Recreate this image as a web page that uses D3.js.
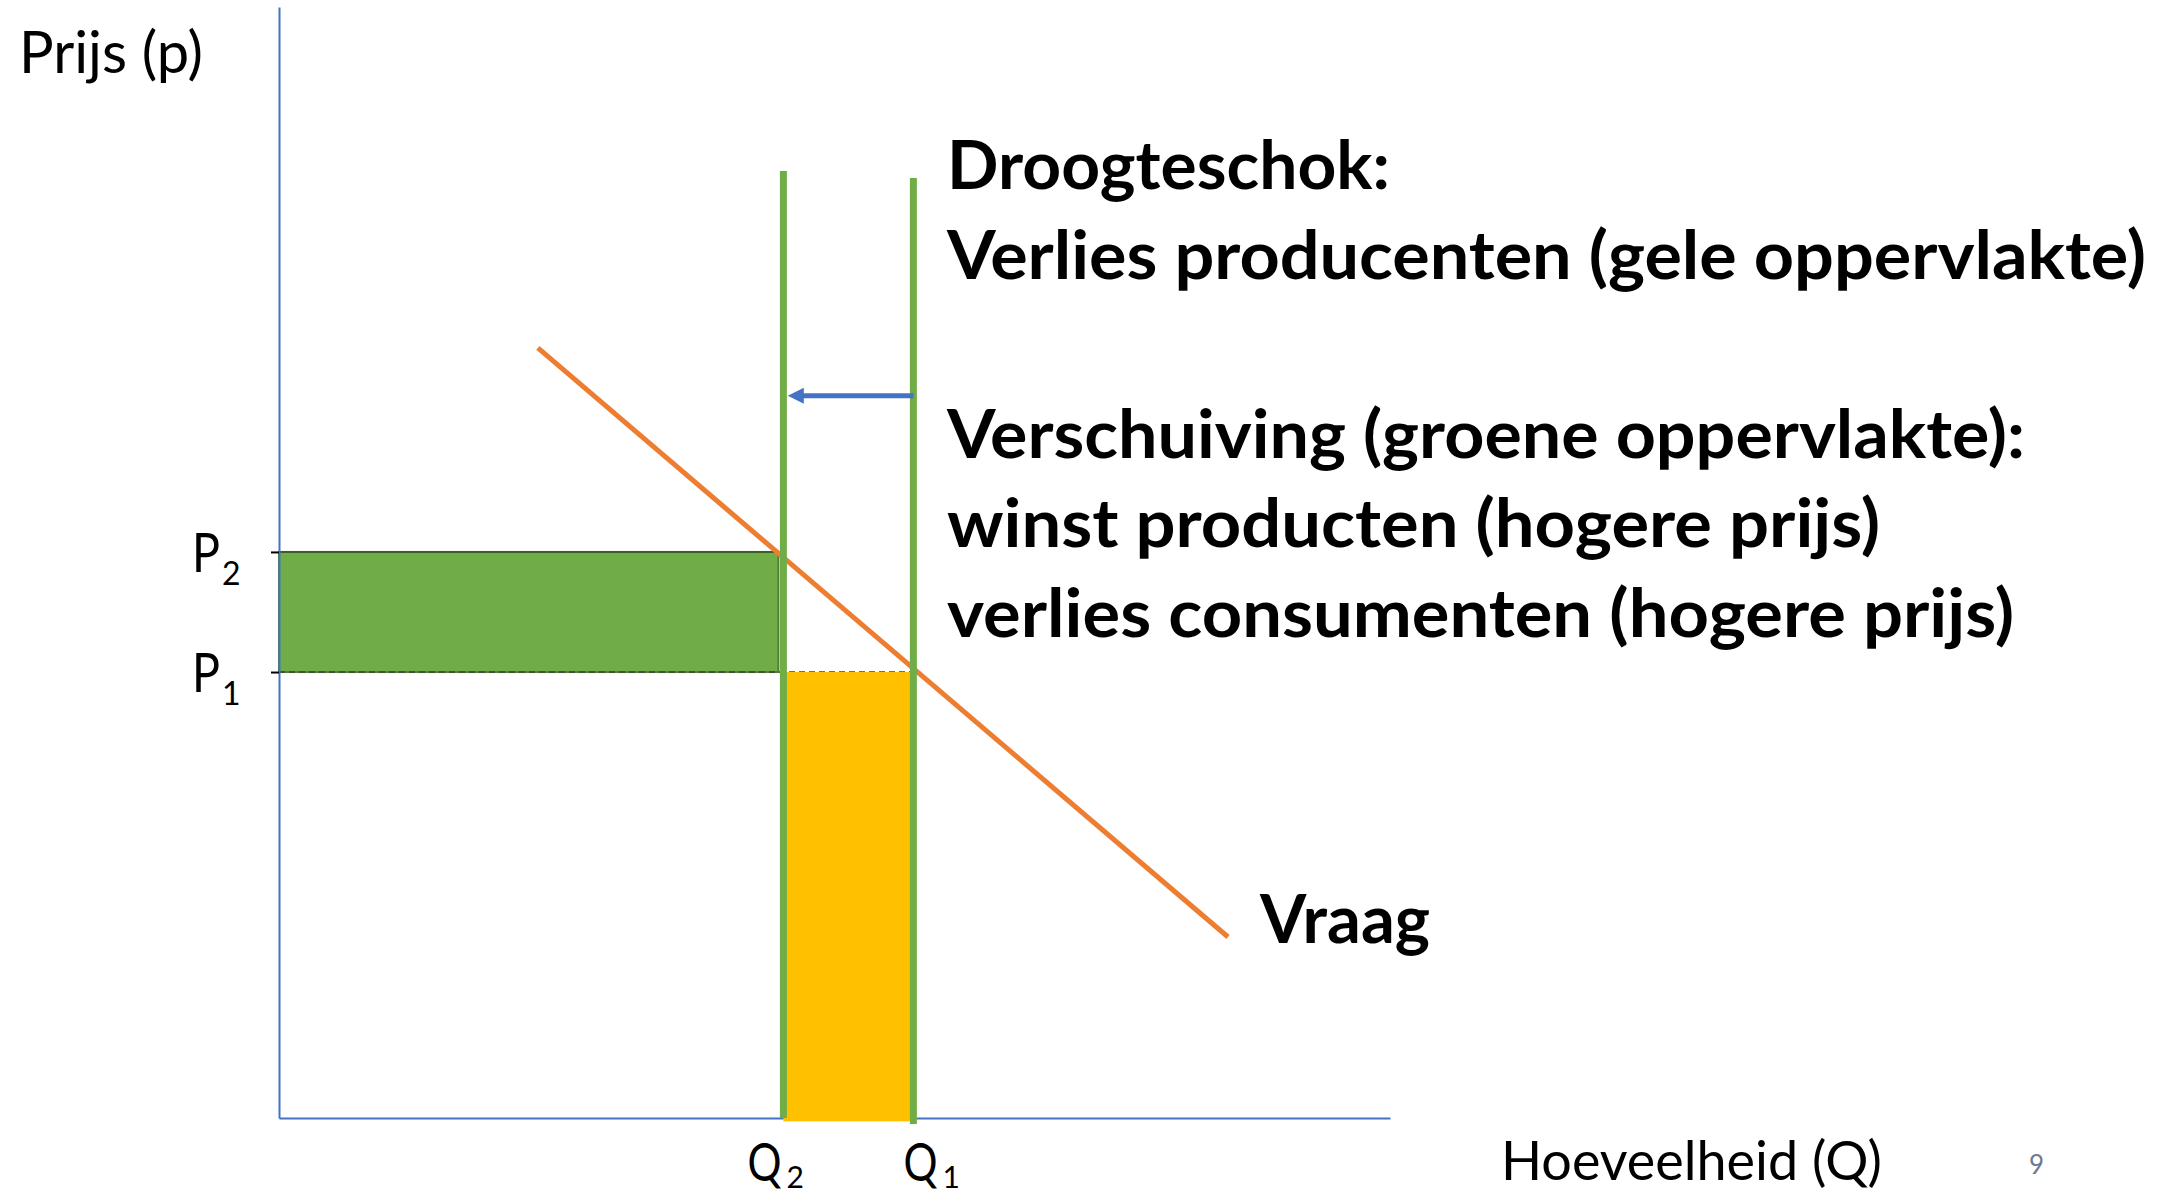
<!DOCTYPE html>
<html>
<head>
<meta charset="utf-8">
<script src="https://cdn.jsdelivr.net/npm/d3@7"></script>
<style>
  html, body { margin: 0; padding: 0; background: #ffffff; }
  svg { display: block; }
  text { font-family: Lato, "Open Sans", sans-serif; fill: #000; }
</style>
</head>
<body>
<script>
// ---- data (abstract price / quantity units) ----
const quantityValues = [45.4, 57.1];          // Q2, Q1
const quantitySubs   = ["2", "1"];
const priceValues    = [50.95, 40.14];        // P2, P1
const priceSubs      = ["2", "1"];
const demandQ        = [23.3, 85.42];
const demandP        = [69.31, 16.29];
const supplyQ        = [45.4, 57.1];          // shifted supply (S2), original supply (S1)
const supplyTopP     = [85.24, 84.61];
const supplyBottomP  = [0, -0.55];
const shiftArrowP    = 65.0;
const shiftArrowTipQ = 45.8;
const annotationLines = [
  "Droogteschok:",
  "Verlies producenten (gele oppervlakte)",
  "",
  "Verschuiving (groene oppervlakte):",
  "winst producten (hogere prijs)",
  "verlies consumenten (hogere prijs)"
];
const annotationWidths = [443, 1199, 0, 1078, 933, 1067];
const demandLabel = "Vraag";
const yAxisTitle = "Prijs (p)";
const xAxisTitle = "Hoeveelheid (Q)";
const pageNumber = "9";

// ---- layout ----
const W = 2167, H = 1195;
const x = d3.scaleLinear().domain([0, 100]).range([279, 1390]);
const y = d3.scaleLinear().domain([0, 100]).range([1118, 7]);

const svg = d3.select("body").append("svg")
  .attr("width", W).attr("height", H)
  .attr("viewBox", `0 0 ${W} ${H}`);
svg.append("rect").attr("width", W).attr("height", H).attr("fill", "#fff");

// green area (price increase)
svg.append("rect")
  .attr("x", x(0)).attr("y", y(priceValues[0]))
  .attr("width", x(quantityValues[0]) - x(0) - 5)
  .attr("height", y(priceValues[1]) - y(priceValues[0]))
  .attr("fill", "#70ad47").attr("stroke", "#507e32").attr("stroke-width", 2);

// P2 top edge to Q2
svg.append("line")
  .attr("x1", x(0)).attr("x2", x(quantityValues[0]))
  .attr("y1", y(priceValues[0])).attr("y2", y(priceValues[0]))
  .attr("stroke", "#3d5f27").attr("stroke-width", 2);

// dashed P1 guide
svg.append("line")
  .attr("x1", x(0)).attr("x2", x(quantityValues[1]))
  .attr("y1", y(priceValues[1])).attr("y2", y(priceValues[1]))
  .attr("stroke", "#404040").attr("stroke-width", 1.5)
  .attr("stroke-dasharray", "6,4");

// axes
const yAxis = d3.axisLeft(y).tickValues(priceValues).tickFormat("").tickSize(8).tickSizeOuter(0);
const gy = svg.append("g").attr("transform", `translate(${x(0)},0)`).call(yAxis);
gy.select(".domain").attr("stroke", "#4472c4").attr("stroke-width", 2);
gy.selectAll(".tick line").attr("stroke", "#000").attr("stroke-width", 2);

const xAxis = d3.axisBottom(x).tickValues([]).tickSizeOuter(0);
const gx = svg.append("g").attr("transform", `translate(0,${y(0)})`).call(xAxis);
gx.select(".domain").attr("stroke", "#4472c4").attr("stroke-width", 2);

// yellow area (producer loss)
svg.append("rect")
  .attr("x", x(quantityValues[0])).attr("y", y(priceValues[1]))
  .attr("width", x(quantityValues[1]) - x(quantityValues[0]))
  .attr("height", y(-0.3) - y(priceValues[1]))
  .attr("fill", "#ffc000");

// demand line
svg.append("line")
  .attr("x1", x(demandQ[0])).attr("y1", y(demandP[0]))
  .attr("x2", x(demandQ[1])).attr("y2", y(demandP[1]))
  .attr("stroke", "#ed7d31").attr("stroke-width", 5);

// supply lines
svg.selectAll("line.supply").data(supplyQ).join("line")
  .attr("class", "supply")
  .attr("x1", d => x(d)).attr("x2", d => x(d))
  .attr("y1", (d, i) => y(supplyTopP[i])).attr("y2", (d, i) => y(supplyBottomP[i]))
  .attr("stroke", "#70ad47").attr("stroke-width", 7);

// shift arrow
const ay = y(shiftArrowP);
const tip = x(shiftArrowTipQ);
svg.append("line")
  .attr("x1", x(supplyQ[1])).attr("x2", tip + 12)
  .attr("y1", ay).attr("y2", ay)
  .attr("stroke", "#4472c4").attr("stroke-width", 5);
svg.append("path")
  .attr("d", `M${tip},${ay} L${tip + 16},${ay - 8} L${tip + 16},${ay + 8} Z`)
  .attr("fill", "#4472c4");

// P labels
const pg = svg.selectAll("g.plabel").data(priceValues).join("g").attr("class", "plabel");
pg.append("text")
  .attr("x", x(0) - 87).attr("y", d => y(d) + 20)
  .attr("font-size", 54).attr("textLength", 28).attr("lengthAdjust", "spacingAndGlyphs")
  .text("P");
pg.append("text")
  .attr("x", x(0) - 57).attr("y", (d) => y(d) + 33)
  .attr("font-size", 32).text((d, i) => priceSubs[i]);

// Q labels
const qOffsets = [-36, -10];
const qg = svg.selectAll("g.qlabel").data(quantityValues).join("g").attr("class", "qlabel");
qg.append("text")
  .attr("x", (d, i) => x(d) + qOffsets[i]).attr("y", y(0) + 63)
  .attr("font-size", 52).attr("textLength", 34).attr("lengthAdjust", "spacingAndGlyphs")
  .text("Q");
qg.append("text")
  .attr("x", (d, i) => x(d) + qOffsets[i] + 39).attr("y", y(0) + 70)
  .attr("font-size", 30).text((d, i) => quantitySubs[i]);

// axis titles
svg.append("text").attr("x", 19).attr("y", 73)
  .attr("font-size", 58).attr("textLength", 184).attr("lengthAdjust", "spacingAndGlyphs")
  .text(yAxisTitle);
svg.append("text").attr("x", 1501).attr("y", 1180)
  .attr("font-size", 55).attr("textLength", 381).attr("lengthAdjust", "spacingAndGlyphs")
  .text(xAxisTitle);

// annotation
const baseY = 189, lineH = 89.5;
svg.selectAll("text.note").data(annotationLines).join("text")
  .attr("class", "note")
  .attr("x", 947).attr("y", (d, i) => baseY + i * lineH)
  .attr("font-size", 66).attr("font-weight", 700)
  .each(function(d, i) {
    if (d) d3.select(this).attr("textLength", annotationWidths[i]).attr("lengthAdjust", "spacingAndGlyphs");
  })
  .text(d => d);

// demand label
svg.append("text").attr("x", 1260).attr("y", 943)
  .attr("font-size", 66).attr("font-weight", 700)
  .attr("textLength", 170).attr("lengthAdjust", "spacingAndGlyphs")
  .text(demandLabel);

// page number
svg.append("text").attr("x", 2029).attr("y", 1174)
  .attr("font-size", 26).style("fill", "#6b7a93")
  .text(pageNumber);
</script>
</body>
</html>
